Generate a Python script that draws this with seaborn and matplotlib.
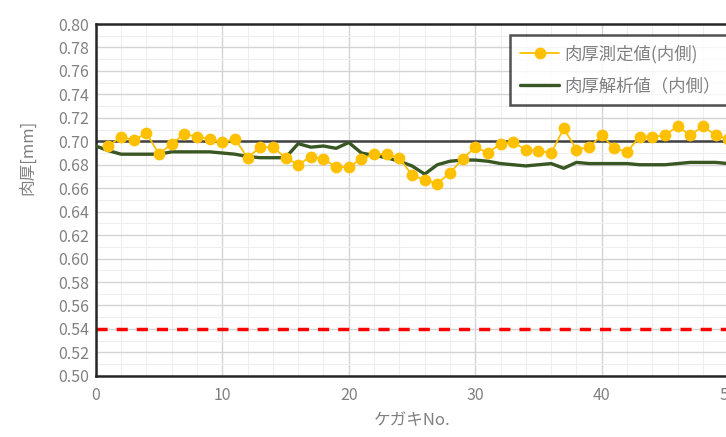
"""Wall thickness chart: measured vs analysed values (inner side)."""

import matplotlib
matplotlib.use("Agg")
import matplotlib.pyplot as plt
import pandas as pd
import seaborn as sns
from matplotlib.ticker import MultipleLocator

# measured thickness, marker No. 1..50
measured_no = list(range(1, 51))
measured_mm = [
    0.696, 0.704, 0.701, 0.707, 0.689, 0.698, 0.706, 0.704, 0.702, 0.699,
    0.702, 0.686, 0.695, 0.695, 0.686, 0.680, 0.687, 0.685, 0.678, 0.678,
    0.685, 0.689, 0.689, 0.686, 0.671, 0.667, 0.664, 0.673, 0.685, 0.695,
    0.690, 0.698, 0.699, 0.693, 0.692, 0.690, 0.711, 0.693, 0.695, 0.705,
    0.694, 0.691, 0.704, 0.704, 0.705, 0.713, 0.705, 0.713, 0.705, 0.702,
]

# analysed thickness, No. 0..50
analysed_no = list(range(0, 51))
analysed_mm = [
    0.696, 0.692, 0.689, 0.689, 0.689, 0.689, 0.691, 0.691, 0.691, 0.691,
    0.690, 0.689, 0.687, 0.686, 0.686, 0.686, 0.698, 0.695, 0.696, 0.694,
    0.699, 0.690, 0.688, 0.686, 0.683, 0.679, 0.672, 0.680, 0.683, 0.684,
    0.684, 0.683, 0.681, 0.680, 0.679, 0.680, 0.681, 0.677, 0.682, 0.681,
    0.681, 0.681, 0.681, 0.680, 0.680, 0.680, 0.681, 0.682, 0.682, 0.682,
    0.681,
]

nominal_mm = 0.70
limit_mm = 0.54

label_measured = "肉厚測定値(内側)"
label_analysed = "肉厚解析値（内側）"

sns.set_theme(style="white")
plt.rcParams["font.family"] = ["Noto Sans CJK JP", "DejaVu Sans"]

fig = plt.figure(figsize=(7.26, 4.37), dpi=100)
ax = fig.add_axes([0.132, 0.14, 0.871, 0.805])

# grid
ax.xaxis.set_major_locator(MultipleLocator(10))
ax.xaxis.set_minor_locator(MultipleLocator(2))
ax.yaxis.set_major_locator(MultipleLocator(0.02))
ax.yaxis.set_minor_locator(MultipleLocator(0.01))
ax.grid(which="major", color="#D4D4D4", linewidth=1.0)
ax.grid(which="minor", color="#EEEEEE", linewidth=0.8)
ax.set_axisbelow(True)

ax.axhline(nominal_mm, color="#404040", linewidth=1.8, zorder=2)
ax.axhline(limit_mm, color="#FF0000", linewidth=2.5, linestyle=(0, (3.2, 2.6)), zorder=2)

df_meas = pd.DataFrame({"no": measured_no, "mm": measured_mm})
df_anal = pd.DataFrame({"no": analysed_no, "mm": analysed_mm})

sns.lineplot(data=df_anal, x="no", y="mm", ax=ax, color="#385723",
             linewidth=2.4, label=label_analysed, zorder=3)
sns.lineplot(data=df_meas, x="no", y="mm", ax=ax, color="#FFC000",
             linewidth=1.3, marker="o", markersize=8.5, markeredgewidth=0,
             label=label_measured, zorder=4)

ax.set_xlim(0, 50)
ax.set_ylim(0.50, 0.80)
ax.yaxis.set_major_formatter(plt.FormatStrFormatter("%.2f"))

for side in ["left", "bottom", "top"]:
    ax.spines[side].set_color("#262626")
    ax.spines[side].set_linewidth(1.8)
ax.spines["right"].set_visible(False)

ax.tick_params(axis="both", which="major", direction="in", length=5, width=1.5,
               color="#262626", labelcolor="#808080", labelsize=11.5, pad=8)
ax.tick_params(axis="both", which="minor", length=0)
ax.tick_params(axis="y", pad=5)

ax.set_xlabel("ケガキNo.", fontsize=12, color="#808080", labelpad=6)
ax.set_ylabel("肉厚[mm]", fontsize=12, color="#808080")
ax.yaxis.set_label_coords(-0.095, 0.622)

# legend runs off the right edge, as in the source image
handles, labels = ax.get_legend_handles_labels()
order = [labels.index(label_measured), labels.index(label_analysed)]
leg = ax.legend([handles[i] for i in order], [labels[i] for i in order],
                loc="upper left", bbox_to_anchor=(0.655, 0.969), borderaxespad=0,
                fontsize=12.5, frameon=True, fancybox=False, edgecolor="#262626",
                handlelength=2.3, handletextpad=0.3, borderpad=0.55,
                labelspacing=0.8)
leg.get_frame().set_linewidth(1.8)
for t in leg.get_texts():
    t.set_color("#808080")

fig.savefig("out.png", dpi=100)
plt.close(fig)
